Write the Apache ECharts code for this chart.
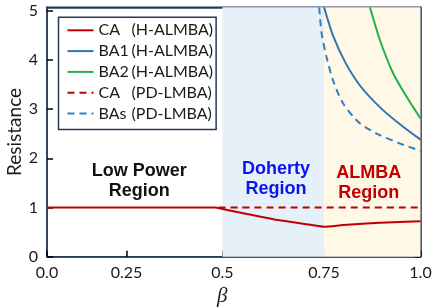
<!DOCTYPE html>
<html>
<head>
<meta charset="utf-8">
<script src="https://cdn.jsdelivr.net/npm/echarts@6/dist/echarts.min.js"></script>
<style>
html,body{margin:0;padding:0;background:#fff;}
#chart{width:437px;height:308px;}
</style>
</head>
<body>
<div id="chart"></div>
<script>
// ---- data ----
const tickBeta   = [0, 0.25, 0.5, 0.75, 1.0];
const tickLabels = ['0.0', '0.25', '0.5', '0.75', '1.0'];
// the reference x axis is not uniform: relative positions of the ticks along the axis
const tickPos    = [0, 0.2128, 0.4698, 0.7418, 1.0];
const yTicks     = [0, 1, 2, 3, 4, 5];

const betaCA_H  = [0, 0.48, 0.5, 0.56, 0.64, 0.72, 0.75, 0.8, 0.86, 0.93, 1.0];
const valCA_H   = [1, 1, 0.97, 0.87, 0.74, 0.645, 0.61, 0.645, 0.675, 0.70, 0.72];

const betaBA1_H = [0.75, 0.773, 0.805, 0.845, 0.9, 0.955, 1.0];
const valBA1_H  = [5.07, 4.5, 3.95, 3.46, 3.0, 2.64, 2.38];

const betaBA2_H = [0.869, 0.895, 0.929, 0.964, 1.0];
const valBA2_H  = [5.07, 4.40, 3.73, 3.25, 2.81];

const betaCA_PD = [0.49, 1.0];
const valCA_PD  = [1, 1];

const betaBAs_PD = [0.738, 0.744, 0.756, 0.773, 0.799, 0.843, 0.895, 0.947, 0.99, 1.0];
const valBAs_PD  = [5.07, 4.54, 4.07, 3.59, 3.12, 2.71, 2.47, 2.30, 2.18, 2.15];

const regions = [
  {name: 'Doherty', from: 0.5, to: 0.75},
  {name: 'ALMBA', from: 0.75, to: 1.0}
];
const regionLabels = [
  {text: 'Low Power\nRegion', beta: 0.283, y: 1.53},
  {text: 'Doherty\nRegion',   beta: 0.632, y: 1.57},
  {text: 'ALMBA\nRegion',     beta: 0.866, y: 1.50}
];

// ---- helpers ----
function toDisp(b) {
  for (let i = 0; i < tickBeta.length - 1; i++) {
    if (b <= tickBeta[i + 1] || i === tickBeta.length - 2) {
      const t = (b - tickBeta[i]) / (tickBeta[i + 1] - tickBeta[i]);
      return tickPos[i] + t * (tickPos[i + 1] - tickPos[i]);
    }
  }
}
function pairs(xs, ys) { return xs.map((x, i) => [toDisp(x), ys[i]]); }
function labelFor(v) {
  for (let i = 0; i < tickPos.length; i++) if (Math.abs(v - tickPos[i]) < 1e-6) return tickLabels[i];
  return '';
}

const FONT = 'Lato';
const AXIS = '#27385a';
const RED = '#c00000', BLUE = '#2e75b6', GREEN = '#22b04c', BLUE2 = '#2f80c6';
const YMAX = 5.07;

const chart = echarts.init(document.getElementById('chart'), null, {renderer: 'canvas'});

function lineSeries(name, xs, ys, color, dashed) {
  return {
    name, type: 'line', data: pairs(xs, ys), showSymbol: false, symbol: 'none',
    smooth: 0.25, z: 3, clip: true,
    lineStyle: {color, width: 2, type: dashed ? [7, 5] : 'solid'},
    itemStyle: {color}
  };
}

const option = {
  animation: false,
  grid: {left: 47, right: 16.5, top: 7.3, bottom: 51.3, show: true,
         outerBoundsMode: 'none', containLabel: false,
         backgroundColor: '#fff', borderColor: AXIS, borderWidth: 1.5},
  xAxis: [{
    type: 'value', min: 0, max: 1, position: 'bottom',
    axisLine: {show: true, onZero: false, lineStyle: {color: AXIS, width: 1.5}},
    axisTick: {show: true, inside: true, length: 6, customValues: tickPos, lineStyle: {color: '#000', width: 1.5}},
    axisLabel: {customValues: tickPos, formatter: labelFor, margin: 8,
                fontFamily: FONT, fontSize: 16, color: '#1a1a1a'},
    splitLine: {show: false},
    name: 'β', nameLocation: 'middle', nameGap: 29,
    nameTextStyle: {fontFamily: 'Liberation Serif', fontStyle: 'italic', fontSize: 21,
                    color: '#1a1a1a', padding: [0, 23, 0, 0]}
  }, {
    type: 'value', min: 0, max: 1, position: 'top',
    axisLine: {show: true, onZero: false, lineStyle: {color: AXIS, width: 1.5}},
    axisTick: {show: false}, axisLabel: {show: false}, splitLine: {show: false}
  }],
  yAxis: [{
    type: 'value', min: 0, max: YMAX, position: 'left',
    axisLine: {show: true, onZero: false, lineStyle: {color: AXIS, width: 1.5}},
    axisTick: {show: true, inside: true, length: 6, customValues: yTicks, lineStyle: {color: '#000', width: 1.5}},
    axisLabel: {customValues: yTicks, margin: 9, fontFamily: FONT, fontSize: 16, color: '#1a1a1a'},
    splitLine: {show: false},
    name: 'Resistance', nameLocation: 'middle', nameGap: 23, nameMoveOverlap: false,
    nameTextStyle: {fontFamily: FONT, fontSize: 19, color: '#1a1a1a'}
  }, {
    type: 'value', min: 0, max: YMAX, position: 'right',
    axisLine: {show: true, onZero: false, lineStyle: {color: AXIS, width: 1.5}},
    axisTick: {show: true, inside: true, length: 6, customValues: yTicks, lineStyle: {color: '#000', width: 1.5}},
    axisLabel: {show: false}, splitLine: {show: false}
  }],
  legend: {
    data: ['CA (H-ALMBA)', 'BA1 (H-ALMBA)', 'BA2 (H-ALMBA)', 'CA (PD-LMBA)', 'BAs (PD-LMBA)'],
    orient: 'vertical', left: 58.5, top: 17.3,
    padding: [5, 3, 8, 8], itemGap: 4.8, itemWidth: 26, itemHeight: 14,
    backgroundColor: '#fff', borderColor: AXIS, borderWidth: 1.5, borderRadius: 0,
    itemStyle: {opacity: 0},
    textStyle: {fontFamily: FONT, fontSize: 16, color: '#1a1a1a',
      rich: {
        a: {fontFamily: FONT, fontSize: 16, color: '#1a1a1a', width: 33},
        b: {fontFamily: FONT, fontSize: 16, color: '#1a1a1a'}
      }},
    formatter: function (name) {
      const i = name.indexOf(' ');
      return '{a|' + name.slice(0, i) + '}{b|' + name.slice(i + 1) + '}';
    }
  },
  series: [
    {
      name: 'regions', type: 'line', data: [], z: 1, xAxisIndex: 0, yAxisIndex: 0,
      markArea: {
        silent: true,
        data: [
          [{xAxis: toDisp(regions[0].from), itemStyle: {color: '#e6f0f9'}}, {xAxis: toDisp(regions[0].to)}],
          [{xAxis: toDisp(regions[1].from), itemStyle: {color: '#fff8e6'}}, {xAxis: toDisp(regions[1].to)}]
        ]
      },
      markPoint: {
        silent: true, symbol: 'circle', symbolSize: 0,
        data: regionLabels.map((r, i) => ({
          coord: [toDisp(r.beta), r.y],
          label: {
            show: true, position: 'inside', formatter: r.text,
            fontFamily: 'Liberation Sans', fontWeight: 'bold', fontSize: 18, lineHeight: 20,
            color: ['#111111', '#0a14f0', '#c00000'][i], align: 'center'
          }
        }))
      }
    },
    lineSeries('CA (H-ALMBA)', betaCA_H, valCA_H, RED, false),
    lineSeries('BA1 (H-ALMBA)', betaBA1_H, valBA1_H, BLUE, false),
    lineSeries('BA2 (H-ALMBA)', betaBA2_H, valBA2_H, GREEN, false),
    lineSeries('CA (PD-LMBA)', betaCA_PD, valCA_PD, RED, true),
    lineSeries('BAs (PD-LMBA)', betaBAs_PD, valBAs_PD, BLUE2, true)
  ]
};
chart.setOption(option);
</script>
</body>
</html>
